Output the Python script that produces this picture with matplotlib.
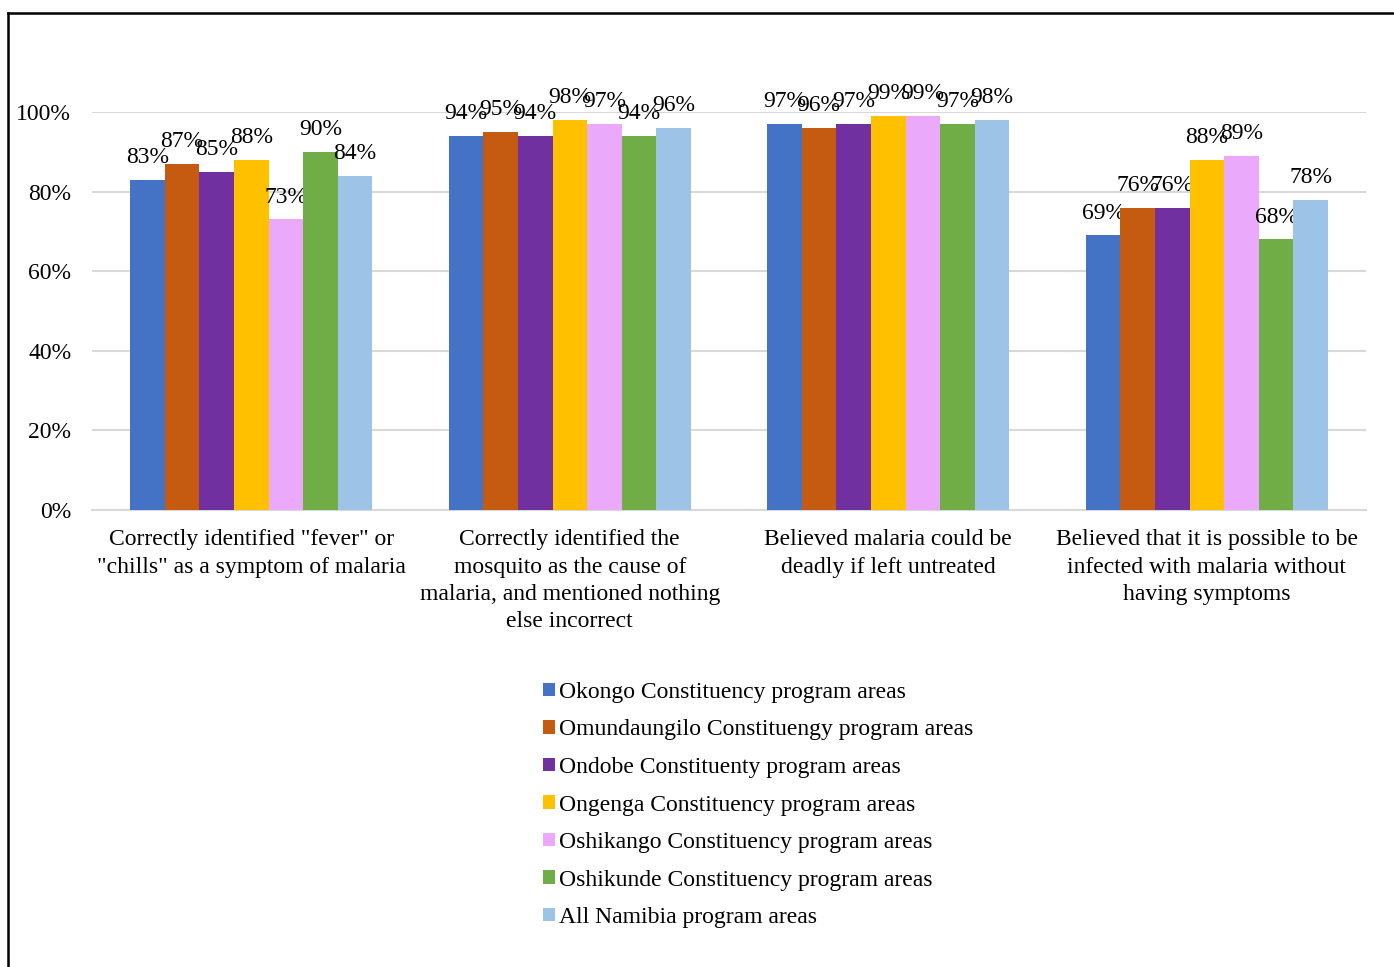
import numpy as np
import matplotlib
matplotlib.use("Agg")
import matplotlib.pyplot as plt
from matplotlib.lines import Line2D
from matplotlib.patches import Patch

plt.rcParams['font.family'] = ['Liberation Serif', 'DejaVu Serif']

categories = [
    'Correctly identified "fever" or\n"chills" as a symptom of malaria',
    'Correctly identified the\nmosquito as the cause of\nmalaria, and mentioned nothing\nelse incorrect',
    'Believed malaria could be\ndeadly if left untreated',
    'Believed that it is possible to be\ninfected with malaria without\nhaving symptoms',
]
series = [
    'Okongo Constituency program areas',
    'Omundaungilo Constituengy program areas',
    'Ondobe Constituenty program areas',
    'Ongenga Constituency program areas',
    'Oshikango Constituency program areas',
    'Oshikunde Constituency program areas',
    'All Namibia program areas',
]
okongo = [83, 94, 97, 69]
omundaungilo = [87, 95, 96, 76]
ondobe = [85, 94, 97, 76]
ongenga = [88, 98, 99, 88]
oshikango = [73, 97, 99, 89]
oshikunde = [90, 94, 97, 68]
all_namibia = [84, 96, 98, 78]
values = [okongo, omundaungilo, ondobe, ongenga, oshikango, oshikunde, all_namibia]
colors = ['#4472C4', '#C55A11', '#7030A0', '#FFC000', '#EBA9FB', '#70AD47', '#9DC3E6']

fig = plt.figure(figsize=(13.94, 9.67), dpi=100)
ax = fig.add_axes([0.066, 0.4726, 0.914, 0.4116])

x = np.arange(len(categories))
n = len(series)
width = 0.76 / n
for i, (vals, col) in enumerate(zip(values, colors)):
    pos = x + (i - (n - 1) / 2) * width
    ax.bar(pos, np.array(vals) / 100, width=width, color=col, zorder=3)
    for xp, v in zip(pos, vals):
        ax.annotate(f'{v}%', (xp, v / 100), xytext=(0, 16), textcoords='offset points',
                    ha='center', va='center', fontsize=17, annotation_clip=False)

ax.set_xlim(-0.5, len(categories) - 0.5)
ax.set_ylim(0, 1.0)
ax.set_yticks(np.arange(0, 1.01, 0.2))
ax.set_yticklabels([f'{int(t * 100)}%' for t in np.arange(0, 1.01, 0.2)], fontsize=17)
ax.set_xticks(x)
ax.set_xticklabels(categories, fontsize=17, linespacing=1.38)
ax.tick_params(axis='both', length=0)
ax.tick_params(axis='y', pad=15)
ax.tick_params(axis='x', pad=14)
ax.grid(axis='y', color='#D9D9D9', linewidth=1.5, zorder=0)
for s in ['top', 'right', 'left']:
    ax.spines[s].set_visible(False)
ax.spines['bottom'].set_color('#D9D9D9')
ax.spines['bottom'].set_linewidth(1.5)

handles = [Patch(facecolor=c, label=s) for c, s in zip(colors, series)]
fig.legend(handles=handles, loc='upper left', bbox_to_anchor=(0.381, 0.307),
           frameon=False, fontsize=17, handlelength=0.5, handleheight=0.5,
           handletextpad=0.2, labelspacing=0.70, borderpad=0)

# border frame along the left and top edges
fig.add_artist(Line2D([8 / 1394, 8 / 1394], [0, 1 - 13 / 967], color='black', linewidth=1.8))
fig.add_artist(Line2D([8 / 1394, 1], [1 - 13 / 967, 1 - 13 / 967], color='black', linewidth=1.8))

fig.savefig('out.png', dpi=100)
